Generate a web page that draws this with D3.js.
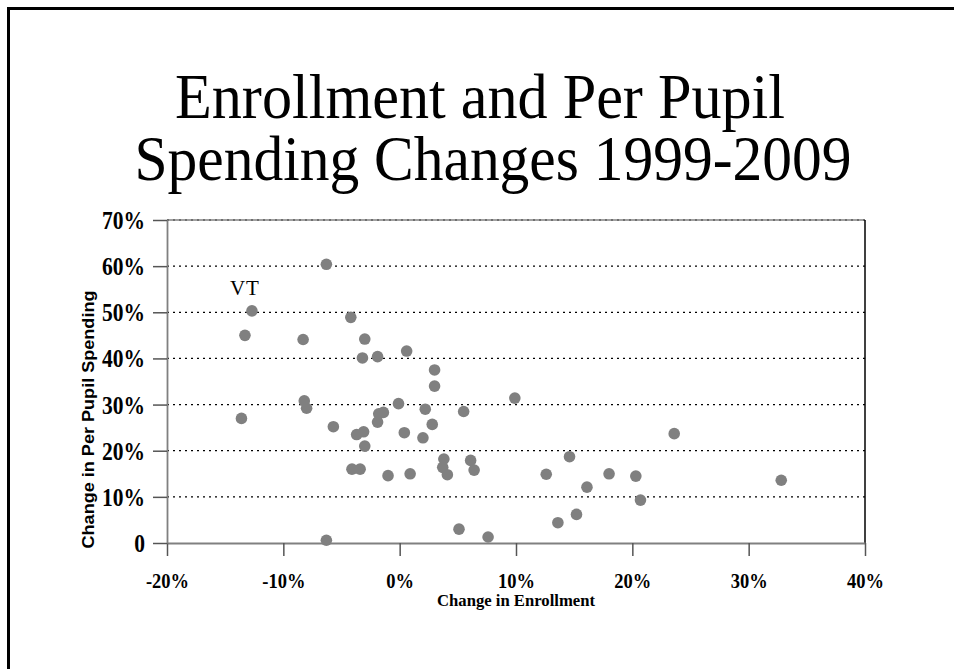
<!DOCTYPE html>
<html>
<head>
<meta charset="utf-8">
<script src="https://cdn.jsdelivr.net/npm/d3@7"></script>
<style>
    body { margin: 0; background: #fff; }
    svg { display: block; }
</style>
</head>
<body>
<div class="scatter-container"></div>
<script>
// Data (percent changes)
const enrollChange = [
    -6.3, -12.7, -13.3, -8.3, -4.2, -3.0, -3.2, -1.9, 0.6, 3.0,
    3.0, 9.9, -0.1, -13.6, -8.2, -8.0, -5.7, -3.7, -3.1, -3.0,
    -4.1, -3.4, -6.3, -1.8, -1.4, -1.9, 0.4, 2.2, 2.8, 2.0,
    5.5, 3.8, 3.7, 4.1, 6.1, 6.4, -1.0, 0.9, 5.1, 7.6,
    12.6, 14.6, 18.0, 20.3, 16.1, 20.7, 15.2, 13.6, 23.6, 32.8
];
const spendChange = [
    60.4, 50.3, 45.0, 44.1, 48.9, 44.2, 40.1, 40.4, 41.6, 37.5,
    34.0, 31.4, 30.2, 27.0, 30.8, 29.2, 25.2, 23.5, 24.1, 21.0,
    16.0, 16.0, 0.6, 28.0, 28.3, 26.2, 23.9, 29.0, 25.7, 22.8,
    28.5, 18.2, 16.4, 14.8, 17.9, 15.8, 14.6, 15.0, 3.0, 1.3,
    14.9, 18.7, 15.0, 14.5, 12.1, 9.3, 6.2, 4.4, 23.7, 13.6
];
const pointLabels = { 1: 'VT' };

const xTicks = [-20, -10, 0, 10, 20, 30, 40];
const yTicks = [0, 10, 20, 30, 40, 50, 60, 70];
const titleLines = ['Enrollment and Per Pupil', 'Spending Changes 1999-2009'];

const points = enrollChange.map((d, i) => ({ x: d, y: spendChange[i], label: pointLabels[i] }));

// Sizes
const svgWidth = 954;
const svgHeight = 669;
const margin = { top: 220, right: 89, bottom: 126, left: 167 };
const width = svgWidth - margin.left - margin.right;
const height = svgHeight - margin.top - margin.bottom;

const serif = '"Liberation Serif", "Times New Roman", serif';
const sans = '"Liberation Sans", Arial, sans-serif';

// squeeze text horizontally, the original font is narrower
function condense(sel, factor) {
    sel.each(function() {
        const len = this.getComputedTextLength();
        d3.select(this)
            .attr('textLength', len * factor)
            .attr('lengthAdjust', 'spacingAndGlyphs');
    });
}

const root = d3.select('.scatter-container')
    .append('svg')
    .attr('width', svgWidth)
    .attr('height', svgHeight);

// slide frame
root.append('path')
    .attr('d', 'M8.5,669 V8.5 H954')
    .attr('fill', 'none')
    .attr('stroke', '#000')
    .attr('stroke-width', 3);

// Title
const titleSpecs = [
    { cx: 480, y: 118, len: 610 },
    { cx: 493, y: 180, len: 717 }
];
root.selectAll('.title')
    .data(titleLines)
    .enter()
    .append('text')
    .attr('class', 'title')
    .attr('x', (d, i) => titleSpecs[i].cx)
    .attr('y', (d, i) => titleSpecs[i].y)
    .attr('text-anchor', 'middle')
    .attr('textLength', (d, i) => titleSpecs[i].len)
    .attr('lengthAdjust', 'spacingAndGlyphs')
    .style('font-family', serif)
    .style('font-size', '63px')
    .style('fill', '#000')
    .text(d => d);

const svg = root.append('g')
    .attr('transform', 'translate(' + margin.left + ',' + margin.top + ')');

// Scales
const xScale = d3.scaleLinear().domain([-20, 40]).range([0, width]);
const yScale = d3.scaleLinear().domain([0, 70]).range([height, 0]);

// Gridlines
svg.selectAll('.grid')
    .data(yTicks.filter(d => d > 0))
    .enter()
    .append('line')
    .attr('class', 'grid')
    .attr('x1', 0)
    .attr('x2', width)
    .attr('y1', d => yScale(d))
    .attr('y2', d => yScale(d))
    .attr('stroke', '#000')
    .attr('stroke-width', 1.3)
    .attr('stroke-dasharray', '2,4');

// top (gray) and right (black) borders of plot
svg.append('line')
    .attr('x1', 0).attr('x2', width)
    .attr('y1', 0).attr('y2', 0)
    .attr('stroke', '#808080')
    .attr('stroke-width', 1.5);
svg.append('line')
    .attr('x1', width).attr('x2', width)
    .attr('y1', 0).attr('y2', height)
    .attr('stroke', '#000')
    .attr('stroke-width', 1.5);

// Axes
const xAxis = d3.axisBottom(xScale)
    .tickValues(xTicks)
    .tickFormat(d => d + '%')
    .tickSizeInner(13)
    .tickSizeOuter(0);

const yAxis = d3.axisLeft(yScale)
    .tickValues(yTicks)
    .tickFormat(d => (d === 0 ? '0' : d + '%'))
    .tickSizeInner(14)
    .tickSizeOuter(0)
    .tickPadding(8);

const xAxisDraw = svg.append('g')
    .attr('class', 'x axis')
    .attr('transform', 'translate(0,' + height + ')');
xAxis(xAxisDraw);

const yAxisDraw = svg.append('g')
    .attr('class', 'y axis');
yAxis(yAxisDraw);

svg.selectAll('.axis .domain')
    .attr('stroke', '#808080')
    .attr('stroke-width', 1.8);
svg.selectAll('.axis .tick line')
    .attr('stroke', '#555')
    .attr('stroke-width', 1.5);

xAxisDraw.selectAll('.tick text')
    .attr('y', 45)
    .attr('dy', null)
    .style('font-family', serif)
    .style('font-weight', 'bold')
    .style('font-size', '21px')
    .style('fill', '#000')
    .call(condense, 0.88);

yAxisDraw.selectAll('.tick text')
    .attr('dy', '0.34em')
    .style('font-family', serif)
    .style('font-weight', 'bold')
    .style('font-size', '25px')
    .style('fill', '#000')
    .call(condense, 0.86);

// Axis titles
svg.append('text')
    .attr('x', width / 2)
    .attr('y', height + 63)
    .attr('text-anchor', 'middle')
    .attr('textLength', 158)
    .attr('lengthAdjust', 'spacingAndGlyphs')
    .style('font-family', serif)
    .style('font-weight', 'bold')
    .style('font-size', '17px')
    .style('fill', '#000')
    .text('Change in Enrollment');

svg.append('text')
    .attr('transform', 'translate(' + (-73) + ',' + (height / 2 + 38) + ') rotate(-90)')
    .attr('text-anchor', 'middle')
    .attr('textLength', 258)
    .attr('lengthAdjust', 'spacingAndGlyphs')
    .style('font-family', sans)
    .style('font-weight', 'bold')
    .style('font-size', '17px')
    .style('fill', '#000')
    .text('Change in Per Pupil Spending');

// Points
svg.selectAll('.scatter')
    .data(points)
    .enter()
    .append('circle')
    .attr('class', 'scatter')
    .attr('cx', d => xScale(d.x))
    .attr('cy', d => yScale(d.y))
    .attr('r', 5.8)
    .style('fill', '#808080');

// Point label
svg.selectAll('.point-label')
    .data(points.filter(d => d.label))
    .enter()
    .append('text')
    .attr('class', 'point-label')
    .attr('x', d => xScale(d.x) - 7)
    .attr('y', d => yScale(d.y) - 16)
    .attr('text-anchor', 'middle')
    .attr('letter-spacing', 1)
    .style('font-family', serif)
    .style('font-size', '21px')
    .style('fill', '#000')
    .text(d => d.label);
</script>
</body>
</html>
